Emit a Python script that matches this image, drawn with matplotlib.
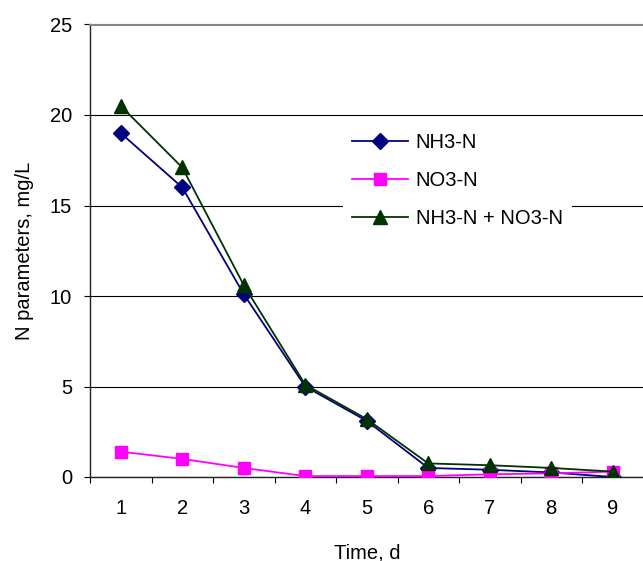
import matplotlib
matplotlib.use("Agg")
import matplotlib.pyplot as plt
import numpy as np

plt.rcParams['font.family'] = ['Liberation Sans', 'DejaVu Sans']

# data
days = [1, 2, 3, 4, 5, 6, 7, 8, 9]
nh3_n = [19.0, 16.0, 10.1, 5.0, 3.1, 0.5, 0.4, 0.25, 0.0]
no3_n = [1.4, 1.0, 0.5, 0.05, 0.05, 0.05, 0.15, 0.2, 0.3]
total_n = [20.5, 17.1, 10.6, 5.1, 3.2, 0.75, 0.65, 0.5, 0.3]
y_ticks = [0, 5, 10, 15, 20, 25]

fs = 14.5

fig = plt.figure(figsize=(6.43, 5.61), dpi=100)
ax = fig.add_axes([90 / 643, 1 - 477 / 561, 553.5 / 643, (477 - 24.5) / 561])

ax.plot(days, nh3_n, color='#000080', lw=1.3, marker='D', ms=8.5,
        mec='#000080', mfc='#000080', label='NH3-N', zorder=3)
ax.plot(days, no3_n, color='#FF00FF', lw=1.3, marker='s', ms=9,
        mec='#FF00FF', mfc='#FF00FF', label='NO3-N', zorder=4)
ax.plot(days, total_n, color='#003300', lw=1.3, marker='^', ms=10,
        mec='#003300', mfc='#003300', label='NH3-N + NO3-N', zorder=5)

ax.set_xlim(0.5, 9.5)
ax.set_ylim(0, 25)
ax.set_yticks(y_ticks)
ax.set_xticks(days)
ax.set_xticks(np.arange(0.5, 10, 1.0), minor=True)
ax.tick_params(axis='x', which='major', length=0, pad=16, labelsize=fs)
ax.tick_params(axis='x', which='minor', length=4.5, width=0.8, direction='out',
               color='black')
ax.tick_params(axis='y', length=4.5, width=0.8, direction='out', pad=8.5,
               labelsize=fs)

ax.yaxis.grid(True, color='black', lw=0.8)
ax.set_axisbelow(True)

for s in ['left', 'bottom']:
    ax.spines[s].set_color('#222222')
    ax.spines[s].set_linewidth(1.0)
ax.spines['top'].set_color('#888888')
ax.spines['top'].set_linewidth(1.5)
ax.spines['right'].set_color('#e0e0e0')
ax.spines['right'].set_linewidth(0.8)

ax.set_xlabel('Time, d', fontsize=fs, labelpad=18)
ax.set_ylabel('N parameters, mg/L', fontsize=fs, labelpad=11)

leg = ax.legend(loc='upper left', bbox_to_anchor=((343 - 90) / 553.5, (477 - 124) / 452.5),
                frameon=True, fancybox=False, edgecolor='none', facecolor='white',
                framealpha=1, fontsize=fs, handlelength=2.8, handletextpad=0.35,
                labelspacing=0.95, borderaxespad=0, borderpad=0.45)
leg.get_frame().set_linewidth(0)

fig.savefig('out.png', dpi=100, facecolor='white')
